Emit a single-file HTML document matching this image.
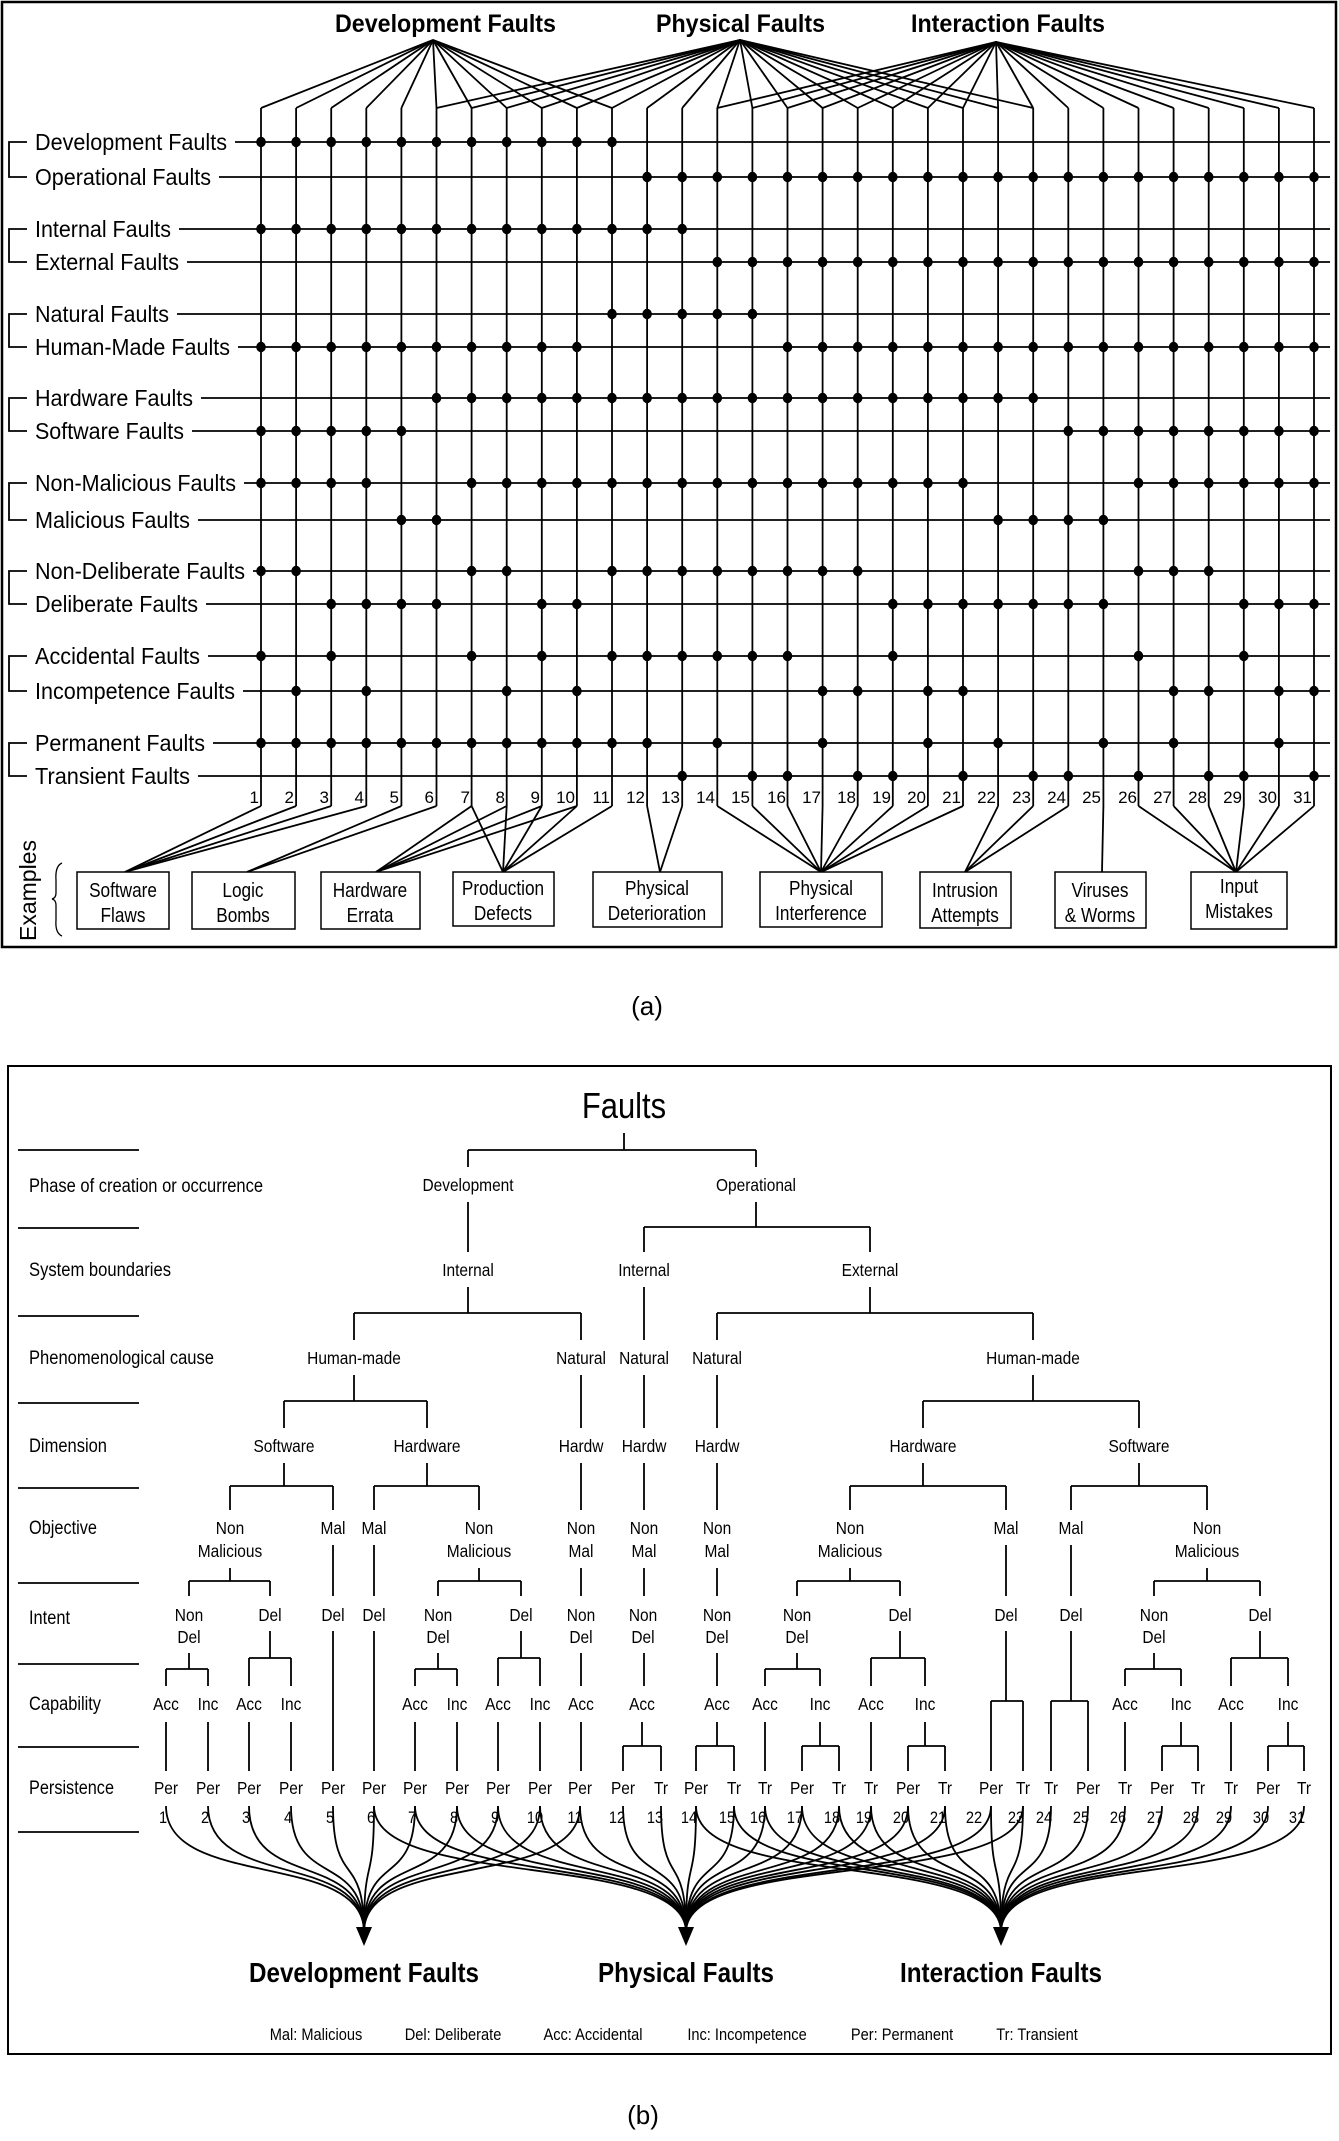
<!DOCTYPE html>
<html><head><meta charset="utf-8"><style>
html,body{margin:0;padding:0;background:#fff}
svg{display:block}
text{font-family:"Liberation Sans Narrow","Liberation Sans",sans-serif;fill:#000}
.t{font-size:23px}
.b{font-weight:bold}
.n{font-size:17px}
.bx{font-size:20px}
.tn{font-size:18px}
.sq text{transform-box:fill-box;transform-origin:center;transform:scaleX(0.86)}
.sq9 text{transform-box:fill-box;transform-origin:center;transform:scaleX(0.9)}
</style></head><body>
<svg id="s" width="1339" height="2141" viewBox="0 0 1339 2141" xmlns="http://www.w3.org/2000/svg">
<rect x="0" y="0" width="1339" height="2141" fill="#fff"/>
<g id="g" stroke="#000" stroke-width="1.8" fill="none"></g>
<g id="d" fill="#000"></g>
<!-- Part (a) -->
<rect x="2" y="2" width="1334" height="945" fill="none" stroke="#000" stroke-width="2.5"/>
<text class="b" x="335" y="32" font-size="25" textLength="221" lengthAdjust="spacingAndGlyphs">Development Faults</text>
<text class="b" x="656" y="32" font-size="25" textLength="169" lengthAdjust="spacingAndGlyphs">Physical Faults</text>
<text class="b" x="911" y="32" font-size="25" textLength="194" lengthAdjust="spacingAndGlyphs">Interaction Faults</text>
<g class="t">
<text x="35" y="150" textLength="192" lengthAdjust="spacingAndGlyphs">Development Faults</text>
<text x="35" y="185" textLength="176" lengthAdjust="spacingAndGlyphs">Operational Faults</text>
<text x="35" y="237" textLength="136" lengthAdjust="spacingAndGlyphs">Internal Faults</text>
<text x="35" y="270" textLength="144" lengthAdjust="spacingAndGlyphs">External Faults</text>
<text x="35" y="322" textLength="134" lengthAdjust="spacingAndGlyphs">Natural Faults</text>
<text x="35" y="355" textLength="195" lengthAdjust="spacingAndGlyphs">Human-Made Faults</text>
<text x="35" y="406" textLength="158" lengthAdjust="spacingAndGlyphs">Hardware Faults</text>
<text x="35" y="439" textLength="149" lengthAdjust="spacingAndGlyphs">Software Faults</text>
<text x="35" y="491" textLength="201" lengthAdjust="spacingAndGlyphs">Non-Malicious Faults</text>
<text x="35" y="528" textLength="155" lengthAdjust="spacingAndGlyphs">Malicious Faults</text>
<text x="35" y="579" textLength="210" lengthAdjust="spacingAndGlyphs">Non-Deliberate Faults</text>
<text x="35" y="612" textLength="163" lengthAdjust="spacingAndGlyphs">Deliberate Faults</text>
<text x="35" y="664" textLength="165" lengthAdjust="spacingAndGlyphs">Accidental Faults</text>
<text x="35" y="699" textLength="200" lengthAdjust="spacingAndGlyphs">Incompetence Faults</text>
<text x="35" y="751" textLength="170" lengthAdjust="spacingAndGlyphs">Permanent Faults</text>
<text x="35" y="784" textLength="155" lengthAdjust="spacingAndGlyphs">Transient Faults</text>
</g>
<g class="n" text-anchor="end" font-size="19">
<text x="259" y="803">1</text><text x="294" y="803">2</text><text x="329" y="803">3</text><text x="364" y="803">4</text><text x="399" y="803">5</text><text x="434" y="803">6</text><text x="470" y="803">7</text><text x="505" y="803">8</text><text x="540" y="803">9</text><text x="575" y="803">10</text><text x="610" y="803">11</text><text x="645" y="803">12</text><text x="680" y="803">13</text><text x="715" y="803">14</text><text x="750" y="803">15</text><text x="786" y="803">16</text><text x="821" y="803">17</text><text x="856" y="803">18</text><text x="891" y="803">19</text><text x="926" y="803">20</text><text x="961" y="803">21</text><text x="996" y="803">22</text><text x="1031" y="803">23</text><text x="1066" y="803">24</text><text x="1101" y="803">25</text><text x="1137" y="803">26</text><text x="1172" y="803">27</text><text x="1207" y="803">28</text><text x="1242" y="803">29</text><text x="1277" y="803">30</text><text x="1312" y="803">31</text>
</g>
<g fill="#fff" stroke="#000" stroke-width="1.5">
<rect x="77" y="872" width="92" height="57"/><rect x="192" y="872" width="103" height="57"/><rect x="321" y="872" width="99" height="57"/><rect x="453" y="872" width="101" height="54"/><rect x="593" y="872" width="129" height="55"/><rect x="760" y="872" width="122" height="55"/><rect x="920" y="872" width="91" height="56"/><rect x="1055" y="872" width="91" height="56"/><rect x="1191" y="872" width="96" height="57"/>
</g>
<g class="bx sq" text-anchor="middle" font-size="22">
<text x="123" y="897">Software</text><text x="123" y="922">Flaws</text>
<text x="243" y="897">Logic</text><text x="243" y="922">Bombs</text>
<text x="370" y="897">Hardware</text><text x="370" y="922">Errata</text>
<text x="503" y="895">Production</text><text x="503" y="920">Defects</text>
<text x="657" y="895">Physical</text><text x="657" y="920">Deterioration</text>
<text x="821" y="895">Physical</text><text x="821" y="920">Interference</text>
<text x="965" y="897">Intrusion</text><text x="965" y="922">Attempts</text>
<text x="1100" y="897">Viruses</text><text x="1100" y="922">&amp; Worms</text>
<text x="1239" y="893">Input</text><text x="1239" y="918">Mistakes</text>
</g>
<text x="0" y="0" font-size="23" transform="translate(36,941) rotate(-90)" style="font-family:'Liberation Sans',sans-serif">Examples</text>
<path d="M62,863 Q55,866 56,880 L56,893 Q56,898 52,899 Q56,900 56,905 L56,920 Q55,933 62,936" fill="none" stroke="#000" stroke-width="1.3"/>
<text x="647" y="1015" font-size="26" text-anchor="middle" style="font-family:'Liberation Sans',sans-serif">(a)</text>

<!-- Part (b) -->
<rect x="8" y="1066" width="1323" height="988" fill="none" stroke="#000" stroke-width="2"/>
<g class="sq"><text x="624" y="1118" font-size="36" text-anchor="middle">Faults</text></g>
<g font-size="19">
<text x="29" y="1192" textLength="234" lengthAdjust="spacingAndGlyphs">Phase of creation or occurrence</text>
<text x="29" y="1276" textLength="142" lengthAdjust="spacingAndGlyphs">System boundaries</text>
<text x="29" y="1364" textLength="185" lengthAdjust="spacingAndGlyphs">Phenomenological cause</text>
<text x="29" y="1452" textLength="78" lengthAdjust="spacingAndGlyphs">Dimension</text>
<text x="29" y="1534" textLength="68" lengthAdjust="spacingAndGlyphs">Objective</text>
<text x="29" y="1624" textLength="41" lengthAdjust="spacingAndGlyphs">Intent</text>
<text x="29" y="1710" textLength="72" lengthAdjust="spacingAndGlyphs">Capability</text>
<text x="29" y="1794" textLength="85" lengthAdjust="spacingAndGlyphs">Persistence</text>
</g>
<g class="tn sq" text-anchor="middle">
<text x="468" y="1191">Development</text><text x="756" y="1191">Operational</text>
<text x="468" y="1276">Internal</text><text x="644" y="1276">Internal</text><text x="870" y="1276">External</text>
<text x="354" y="1364">Human-made</text><text x="581" y="1364">Natural</text><text x="644" y="1364">Natural</text><text x="717" y="1364">Natural</text><text x="1033" y="1364">Human-made</text>
<text x="284" y="1452">Software</text><text x="427" y="1452">Hardware</text><text x="581" y="1452">Hardw</text><text x="644" y="1452">Hardw</text><text x="717" y="1452">Hardw</text><text x="923" y="1452">Hardware</text><text x="1139" y="1452">Software</text>
<text x="230" y="1534">Non</text><text x="230" y="1557">Malicious</text>
<text x="333" y="1534">Mal</text><text x="374" y="1534">Mal</text>
<text x="479" y="1534">Non</text><text x="479" y="1557">Malicious</text>
<text x="581" y="1534">Non</text><text x="581" y="1557">Mal</text>
<text x="644" y="1534">Non</text><text x="644" y="1557">Mal</text>
<text x="717" y="1534">Non</text><text x="717" y="1557">Mal</text>
<text x="850" y="1534">Non</text><text x="850" y="1557">Malicious</text>
<text x="1006" y="1534">Mal</text><text x="1071" y="1534">Mal</text>
<text x="1207" y="1534">Non</text><text x="1207" y="1557">Malicious</text>
<text x="189" y="1621">Non</text><text x="189" y="1643">Del</text><text x="270" y="1621">Del</text>
<text x="333" y="1621">Del</text><text x="374" y="1621">Del</text>
<text x="438" y="1621">Non</text><text x="438" y="1643">Del</text><text x="521" y="1621">Del</text>
<text x="581" y="1621">Non</text><text x="581" y="1643">Del</text>
<text x="643" y="1621">Non</text><text x="643" y="1643">Del</text>
<text x="717" y="1621">Non</text><text x="717" y="1643">Del</text>
<text x="797" y="1621">Non</text><text x="797" y="1643">Del</text><text x="900" y="1621">Del</text>
<text x="1006" y="1621">Del</text><text x="1071" y="1621">Del</text>
<text x="1154" y="1621">Non</text><text x="1154" y="1643">Del</text><text x="1260" y="1621">Del</text>
<text x="166" y="1710">Acc</text><text x="208" y="1710">Inc</text><text x="249" y="1710">Acc</text><text x="291" y="1710">Inc</text>
<text x="415" y="1710">Acc</text><text x="457" y="1710">Inc</text><text x="498" y="1710">Acc</text><text x="540" y="1710">Inc</text>
<text x="581" y="1710">Acc</text><text x="642" y="1710">Acc</text><text x="717" y="1710">Acc</text>
<text x="765" y="1710">Acc</text><text x="820" y="1710">Inc</text><text x="871" y="1710">Acc</text><text x="925" y="1710">Inc</text>
<text x="1125" y="1710">Acc</text><text x="1181" y="1710">Inc</text><text x="1231" y="1710">Acc</text><text x="1288" y="1710">Inc</text>
<text x="166" y="1794">Per</text><text x="208" y="1794">Per</text><text x="249" y="1794">Per</text><text x="291" y="1794">Per</text><text x="333" y="1794">Per</text><text x="374" y="1794">Per</text><text x="415" y="1794">Per</text><text x="457" y="1794">Per</text><text x="498" y="1794">Per</text><text x="540" y="1794">Per</text><text x="580" y="1794">Per</text><text x="623" y="1794">Per</text><text x="661" y="1794">Tr</text><text x="696" y="1794">Per</text><text x="734" y="1794">Tr</text><text x="765" y="1794">Tr</text><text x="802" y="1794">Per</text><text x="839" y="1794">Tr</text><text x="871" y="1794">Tr</text><text x="908" y="1794">Per</text><text x="945" y="1794">Tr</text><text x="991" y="1794">Per</text><text x="1023" y="1794">Tr</text><text x="1051" y="1794">Tr</text><text x="1088" y="1794">Per</text><text x="1125" y="1794">Tr</text><text x="1162" y="1794">Per</text><text x="1198" y="1794">Tr</text><text x="1231" y="1794">Tr</text><text x="1268" y="1794">Per</text><text x="1304" y="1794">Tr</text>
</g>
<g class="n sq" text-anchor="middle" font-size="18">
<text x="163" y="1823">1</text><text x="205" y="1823">2</text><text x="246" y="1823">3</text><text x="288" y="1823">4</text><text x="330" y="1823">5</text><text x="371" y="1823">6</text><text x="412" y="1823">7</text><text x="454" y="1823">8</text><text x="495" y="1823">9</text><text x="535" y="1823">10</text><text x="575" y="1823">11</text><text x="617" y="1823">12</text><text x="655" y="1823">13</text><text x="689" y="1823">14</text><text x="727" y="1823">15</text><text x="758" y="1823">16</text><text x="795" y="1823">17</text><text x="832" y="1823">18</text><text x="864" y="1823">19</text><text x="901" y="1823">20</text><text x="938" y="1823">21</text><text x="974" y="1823">22</text><text x="1016" y="1823">23</text><text x="1044" y="1823">24</text><text x="1081" y="1823">25</text><text x="1118" y="1823">26</text><text x="1155" y="1823">27</text><text x="1191" y="1823">28</text><text x="1224" y="1823">29</text><text x="1261" y="1823">30</text><text x="1297" y="1823">31</text>
</g>
<g class="b sq9" font-size="28" text-anchor="middle">
<text x="364" y="1982" textLength="230" lengthAdjust="spacingAndGlyphs" style="transform:none">Development Faults</text><text x="686" y="1982" textLength="176" lengthAdjust="spacingAndGlyphs" style="transform:none">Physical Faults</text><text x="1001" y="1982" textLength="202" lengthAdjust="spacingAndGlyphs" style="transform:none">Interaction Faults</text>
</g>
<g class="sq" font-size="17" text-anchor="middle">
<text x="316" y="2040">Mal: Malicious</text><text x="453" y="2040">Del: Deliberate</text><text x="593" y="2040">Acc: Accidental</text><text x="747" y="2040">Inc: Incompetence</text><text x="902" y="2040">Per: Permanent</text><text x="1037" y="2040">Tr: Transient</text>
</g>
<text x="643" y="2124" font-size="26" text-anchor="middle" style="font-family:'Liberation Sans',sans-serif">(b)</text>
</svg>
<script>
(function(){
var g=document.getElementById('g'),d=document.getElementById('d'),NS='http://www.w3.org/2000/svg';
function L(x1,y1,x2,y2){var e=document.createElementNS(NS,'line');e.setAttribute('x1',x1);e.setAttribute('y1',y1);e.setAttribute('x2',x2);e.setAttribute('y2',y2);g.appendChild(e);}
function P(s){var e=document.createElementNS(NS,'path');e.setAttribute('d',s);g.appendChild(e);}
function C(x,y){var e=document.createElementNS(NS,'ellipse');e.setAttribute('cx',x);e.setAttribute('cy',y);e.setAttribute('rx',4.8);e.setAttribute('ry',5.2);d.appendChild(e);}
function cx(i){return 261+(i-1)*35.1;}
function R(a,b){var r=[];for(var i=a;i<=b;i++)r.push(i);return r;}
var fans=[[433,40,R(1,11)],[740,40,R(6,23)],[996,42,R(14,31)]];
fans.forEach(function(f){f[2].forEach(function(i){L(f[0],f[1],cx(i),108);});});
for(var i=1;i<=31;i++)L(cx(i),108,cx(i),806);
var rows=[[142,235,R(1,11)],[177,219,R(12,31)],[229,179,R(1,13)],[262,187,R(14,31)],[314,177,R(11,15)],[347,238,R(1,10).concat(R(16,31))],
[398,201,R(6,23)],[431,192,R(1,5).concat(R(24,31))],[483,244,R(1,4).concat(R(7,21),R(26,31))],[520,198,[5,6,22,23,24,25]],
[571,253,[1,2,7,8].concat(R(11,18),[26,27,28])],[604,206,R(3,6).concat([9,10],R(19,25),[29,30,31])],
[656,208,[1,3,7,9].concat(R(11,16),[19,26,29])],[691,243,[2,4,8,10,17,18,20,21,27,28,30,31]],
[743,213,R(1,12).concat([14,17,20,22,25,27,30])],[776,198,[13,15,16,18,19,21,23,24,26,28,29,31]]];
rows.forEach(function(r){L(r[1],r[0],1330,r[0]);r[2].forEach(function(i){C(cx(i),r[0]);});});
for(var k=0;k<16;k+=2){var y1=rows[k][0],y2=rows[k+1][0];P('M27,'+y1+' H9 V'+y2+' H27');}
var ex=[[125,R(1,4)],[247,[5,6]],[376,R(7,10)],[503,R(7,11)],[660,[12,13]],[821,R(14,21)],[965,[22,23,24]],[1102,[25]],[1236,R(26,31)]];
ex.forEach(function(e){e[1].forEach(function(i){L(cx(i),806,e[0],872);});});
[1150,1228,1316,1403,1488,1583,1664,1747,1832].forEach(function(y){L(18,y,139,y);});
function B(px,y0,yb,xs,y1){L(px,y0,px,yb);L(Math.min.apply(null,xs),yb,Math.max.apply(null,xs),yb);xs.forEach(function(x){L(x,yb,x,y1);});}
B(624,1133,1150,[468,756],1167);
L(468,1202,468,1252);
B(756,1202,1227,[644,870],1252);
B(468,1287,1313,[354,581],1340);
L(644,1287,644,1340);
B(870,1287,1313,[717,1033],1340);
B(354,1375,1401,[284,427],1428);
[581,644,717].forEach(function(x){L(x,1375,x,1428);L(x,1463,x,1510);L(x,1568,x,1596);L(x,1653,x,1686);});
B(1033,1375,1401,[923,1139],1428);
B(284,1463,1486,[230,333],1510);
B(427,1463,1486,[374,479],1510);
B(923,1463,1486,[850,1006],1510);
B(1139,1463,1486,[1071,1207],1510);
B(230,1568,1581,[189,270],1596);
B(479,1568,1581,[438,521],1596);
B(850,1568,1581,[797,900],1596);
B(1207,1568,1581,[1154,1260],1596);
[333,374,1006,1071].forEach(function(x){L(x,1545,x,1596);});
L(333,1631,333,1771);L(374,1631,374,1771);
B(1006,1631,1701,[991,1023],1771);
B(1071,1631,1701,[1051,1088],1771);
B(189,1653,1669,[166,208],1686);
B(270,1631,1658,[249,291],1686);
B(438,1653,1669,[415,457],1686);
B(521,1631,1658,[498,540],1686);
B(797,1653,1669,[765,820],1686);
B(900,1631,1658,[871,925],1686);
B(1154,1653,1669,[1125,1181],1686);
B(1260,1631,1658,[1231,1288],1686);
[166,208,249,291,415,457,498,540,581,765,871,1125,1231].forEach(function(x){L(x,1722,x,1771);});
B(642,1722,1746,[623,661],1771);
B(717,1722,1746,[696,734],1771);
B(820,1722,1746,[802,839],1771);
B(925,1722,1746,[908,945],1771);
B(1181,1722,1746,[1162,1198],1771);
B(1288,1722,1746,[1268,1304],1771);
var lx=[166,208,249,291,333,374,415,457,498,540,580,623,661,696,734,765,802,839,871,908,945,991,1023,1051,1088,1125,1162,1198,1231,1268,1304];
var ap=[364,686,1001];
lx.forEach(function(x,k){var i=k+1;var t=[];if(i<=11)t.push(0);if(i>=6&&i<=23)t.push(1);if(i>=14)t.push(2);
t.forEach(function(j){var a=ap[j];P('M'+x+',1806 C'+x+',1890 '+a+',1850 '+a+',1932');});});
ap.forEach(function(a){var e=document.createElementNS(NS,'path');e.setAttribute('d','M'+(a-8)+',1927 L'+(a+8)+',1927 L'+a+',1946 Z');e.setAttribute('fill','#000');d.appendChild(e);});
})();
</script>
</body></html>
